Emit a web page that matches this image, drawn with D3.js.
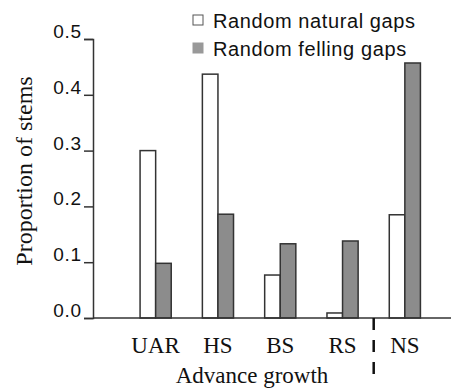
<!DOCTYPE html>
<html>
<head>
<meta charset="utf-8">
<script src="https://cdn.jsdelivr.net/npm/d3@7"></script>
<style>
  body { margin: 0; background: #fff; }
  svg { display: block; }
</style>
</head>
<body>
<div id="chart"></div>
<script>
// advance growth categories and proportions
const categories = ["UAR", "HS", "BS", "RS", "NS"];
const seriesNames = ["Random natural gaps", "Random felling gaps"];
const naturalGaps = [0.300, 0.437, 0.077, 0.009, 0.185];
const fellingGaps = [0.098, 0.186, 0.133, 0.138, 0.457];
const yTicks = [0.0, 0.1, 0.2, 0.3, 0.4, 0.5];

const W = 452, H = 390;
const fills = ["#ffffff", "#8c8c8c"];

var svg = d3.select("#chart").append("svg")
    .attr("width", W)
    .attr("height", H);

var y = d3.scaleLinear().domain([0, 0.5]).range([318, 39]);
var x = d3.scaleBand().domain(categories).range([124.5, 436])
    .paddingInner(0.5).paddingOuter(0.25);
var xSub = d3.scaleBand().domain(seriesNames).range([0, x.bandwidth()]);

var rows = [];
categories.forEach((c, i) => {
    rows.push({cat: c, s: seriesNames[0], v: naturalGaps[i]});
    rows.push({cat: c, s: seriesNames[1], v: fellingGaps[i]});
});

// bars
svg.append("g").selectAll("rect")
    .data(rows)
    .enter()
    .append("rect")
    .attr("x", d => x(d.cat) + xSub(d.s))
    .attr("y", d => y(d.v))
    .attr("width", xSub.bandwidth())
    .attr("height", d => y(0) - y(d.v))
    .attr("fill", d => fills[seriesNames.indexOf(d.s)])
    .attr("stroke", "#333")
    .attr("stroke-width", 1.5);

// y axis
var yAxis = d3.axisLeft(y).tickValues(yTicks).tickFormat(d3.format(".1f"))
    .tickSize(9).tickPadding(2);
var gy = svg.append("g").attr("transform", "translate(93,0)").call(yAxis);
gy.select(".domain").attr("stroke", "#333").attr("stroke-width", 1.5);
gy.selectAll(".tick line").attr("stroke", "#333").attr("stroke-width", 1.5);
gy.selectAll(".tick text")
    .attr("dy", "-0.08em")
    .style("font-family", "Arial, 'Liberation Sans', sans-serif")
    .style("font-size", "19px")
    .style("letter-spacing", "0.8px")
    .attr("fill", "#111");

// x baseline
svg.append("line")
    .attr("x1", 93).attr("x2", 451)
    .attr("y1", y(0)).attr("y2", y(0))
    .attr("stroke", "#333").attr("stroke-width", 1.5);

// category labels
svg.append("g").selectAll("text")
    .data(categories)
    .enter()
    .append("text")
    .attr("x", d => x(d) + x.bandwidth() / 2)
    .attr("y", 353)
    .attr("text-anchor", "middle")
    .style("font-family", "'Liberation Serif', 'Times New Roman', serif")
    .style("font-size", "23px")
    .attr("fill", "#111")
    .text(d => d);

// dashed separator between RS and NS
var sepX = (x("RS") + x("NS") + x.bandwidth()) / 2;
svg.append("line")
    .attr("x1", sepX).attr("x2", sepX)
    .attr("y1", y(0)).attr("y2", 381)
    .attr("stroke", "#111")
    .attr("stroke-width", 2.5)
    .attr("stroke-dasharray", "12,10");

// axis titles
svg.append("text")
    .attr("x", 252).attr("y", 383)
    .attr("text-anchor", "middle")
    .style("font-family", "'Liberation Serif', 'Times New Roman', serif")
    .style("font-size", "23px")
    .attr("fill", "#111")
    .text("Advance growth");

svg.append("text")
    .attr("transform", "translate(32,171) rotate(-90)")
    .attr("text-anchor", "middle")
    .style("font-family", "'Liberation Serif', 'Times New Roman', serif")
    .style("font-size", "24px")
    .attr("fill", "#111")
    .text("Proportion of stems");

// legend
var legend = svg.append("g").selectAll("g")
    .data(seriesNames)
    .enter()
    .append("g")
    .attr("transform", (d, i) => "translate(193," + (15 + i * 28) + ")");

legend.append("rect")
    .attr("width", 10).attr("height", 10)
    .attr("fill", (d, i) => i == 0 ? "#fff" : "#999")
    .attr("stroke", (d, i) => i == 0 ? "#555" : "#999")
    .attr("stroke-width", 1);

legend.append("text")
    .attr("x", 20).attr("y", 13)
    .style("font-family", "Arial, 'Liberation Sans', sans-serif")
    .style("font-size", "20px")
    .style("letter-spacing", "0.6px")
    .attr("fill", "#111")
    .text(d => d);
</script>
</body>
</html>
